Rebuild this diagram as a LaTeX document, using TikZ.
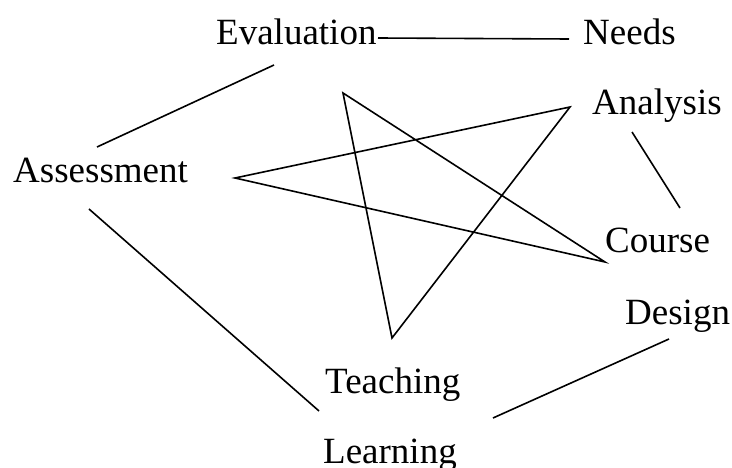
\documentclass[tikz,border=0pt]{standalone}
\usepackage{fontspec}
\setmainfont{Liberation Serif}
\begin{document}
\begin{tikzpicture}[x=1pt,y=-1pt,
  lbl/.style={anchor=base west,inner sep=0pt,font=\fontsize{37}{44}\selectfont},
  ln/.style={line width=1.6pt,line join=miter}]
\useasboundingbox (0,0) rectangle (732,468);
% labels
\node[lbl] (eval) at (216,45) {Evaluation};
\node[lbl] (needs) at (583,45) {Needs};
\node[lbl] (analysis) at (592,115) {Analysis};
\node[lbl] (assess) at (13,183) {Assessment};
\node[lbl] (course) at (605,253) {Course};
\node[lbl] (design) at (625,324) {Design};
\node[lbl] (teach) at (325,393) {Teaching};
\node[lbl] (learn) at (323,463) {Learning};
% line end points
\coordinate (en1) at (378,38);
\coordinate (en2) at (569,39);
\coordinate (ea1) at (274,65);
\coordinate (ea2) at (97,147);
\coordinate (ac1) at (632,132);
\coordinate (ac2) at (680,208);
\coordinate (al1) at (89,209);
\coordinate (al2) at (319,411);
\coordinate (dl1) at (669,339);
\coordinate (dl2) at (493,418);
% star vertices
\coordinate (s1) at (343,93);
\coordinate (s2) at (392,338);
\coordinate (s3) at (570,107);
\coordinate (s4) at (235,178);
\coordinate (s5) at (605,262);
% connectors
\draw[ln] (en1) -- (en2);
\draw[ln] (ea1) -- (ea2);
\draw[ln] (ac1) -- (ac2);
\draw[ln] (al1) -- (al2);
\draw[ln] (dl1) -- (dl2);
\draw[ln] (s1) -- (s2) -- (s3) -- (s4) -- (s5) -- cycle;
\end{tikzpicture}
\end{document}
